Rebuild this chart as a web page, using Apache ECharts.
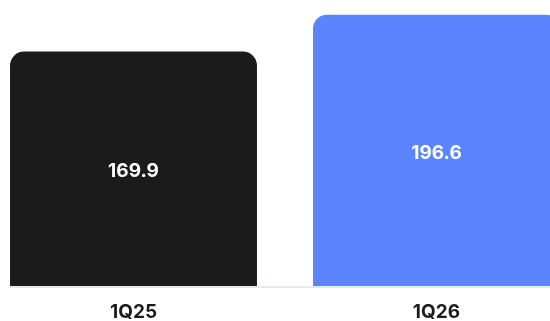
<!DOCTYPE html>
<html>
<head>
<meta charset="utf-8">
<script src="https://cdn.jsdelivr.net/npm/echarts@6/dist/echarts.min.js"></script>
<style>
  html, body { margin: 0; padding: 0; background: #fff; }
  #chart { width: 550px; height: 321px; }
</style>
</head>
<body>
<div id="chart"></div>
<script>
// quarters and revenue values
var categories = ['1Q25', '1Q26']
var values = [169.9, 196.6]
var barColors = ['#1b1b1b', '#5b84fe']

var chart = echarts.init(document.getElementById('chart'))

var option = {
  animation: false,
  grid: { left: -18, right: -38, top: 10, bottom: 35, outerBoundsMode: 'none', containLabel: false },
  xAxis: {
    type: 'category',
    data: categories,
    axisLine: { show: false },
    axisTick: { show: false },
    axisLabel: {
      color: '#1b1b1b',
      fontFamily: 'Inter',
      fontWeight: 'bold',
      fontSize: 19,
      margin: 17
    }
  },
  yAxis: {
    type: 'value',
    min: 0,
    max: 200,
    show: false
  },
  series: [{
    type: 'bar',
    barCategoryGap: '18.5%',
    data: values.map(function (v, i) {
      return { value: v, itemStyle: { color: barColors[i] } }
    }),
    itemStyle: { borderRadius: [14, 14, 0, 0] },
    label: {
      show: true,
      position: 'inside',
      offset: [0, 3],
      color: '#fff',
      fontFamily: 'Inter',
      fontWeight: 'bold',
      fontSize: 19
    }
  }],
  graphic: [{
    type: 'line',
    shape: { x1: 9, y1: 287, x2: 550, y2: 287 },
    style: { stroke: '#e6e9ee', lineWidth: 2 }
  }]
}

chart.setOption(option)
</script>
</body>
</html>
